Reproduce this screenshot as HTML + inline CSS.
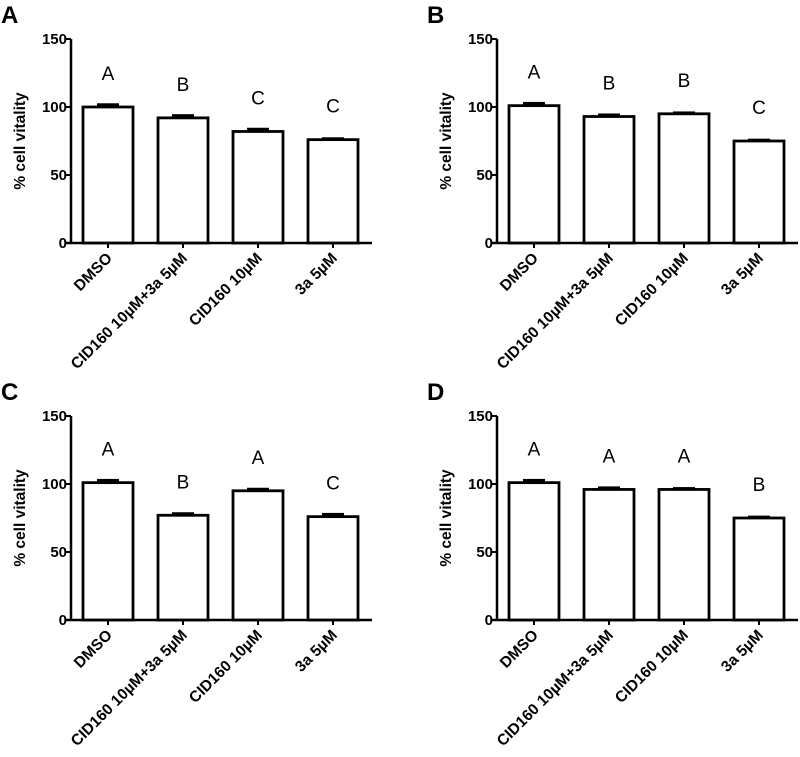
<!DOCTYPE html>
<html><head><meta charset="utf-8"><style>
body{margin:0;background:#fff}
svg text{font-family:"Liberation Sans",Arial,sans-serif}
</style></head><body>
<svg id="fig" width="800" height="752" viewBox="0 0 800 752" xmlns="http://www.w3.org/2000/svg"></svg>
<script>
const categories = ["DMSO","CID160 10µM+3a 5µM","CID160 10µM","3a 5µM"];
const yTicks = [0,50,100,150];
const panelNames = ["A","B","C","D"];
const valuesA = [100,92,82,76];
const valuesB = [101,93,95,75];
const valuesC = [101,77,95,76];
const valuesD = [101,96,96,75];
const errA = [2,2,2,1];
const errB = [2,1.5,1,1];
const errC = [2,1.5,1.5,2];
const errD = [2,1.5,1,1];
const lettersA = ["A","B","C","C"];
const lettersB = ["A","B","B","C"];
const lettersC = ["A","B","A","C"];
const lettersD = ["A","A","A","B"];

const NS="http://www.w3.org/2000/svg";
const svg=document.getElementById('fig');
function mk(tag,attrs,parent){const e=document.createElementNS(NS,tag);for(const k in attrs)e.setAttribute(k,attrs[k]);(parent||svg).appendChild(e);return e;}

function panel(name,ox,oy,vals,errs,letters){
  const g=mk('g',{});
  
  
  const ax=71+ox, y0=243+oy, yTop=39+oy;
  const yS=v=>y0-(v/150)*(y0-yTop);
  const xC=i=>ax+37+i*75;
  const t=mk('text',{x:ox+1,y:oy+23,'font-size':24,'font-weight':'bold'},g);t.textContent=name;
  
  
  const yl=mk('line',{x1:ax,y1:yTop,x2:ax,y2:y0+1,stroke:'#000','stroke-width':2.5},g);
  
  
  const xl=mk('line',{x1:ax-5,y1:y0,x2:ax+301,y2:y0,stroke:'#000','stroke-width':2.5},g);
  
  
  yTicks.forEach(v=>{
    mk('line',{x1:ax-5,y1:yS(v),x2:ax,y2:yS(v),stroke:'#000','stroke-width':2},g);
    const tt=mk('text',{x:ax-4,y:yS(v)+5,'font-size':15,'font-weight':'bold','text-anchor':'end'},g);tt.textContent=v;
    
    
  });
  const yt=mk('text',{x:0,y:0,'font-size':15.5,'font-weight':'bold','text-anchor':'middle',transform:`translate(${ax-46},${(yTop+y0)/2}) rotate(-90)`},g);
  yt.textContent='% cell vitality';
  
  
  vals.forEach((v,i)=>{
    const cx=xC(i), top=yS(v);
    const r=mk('rect',{x:cx-25,y:top,width:50,height:y0-top,fill:'#fff',stroke:'#000','stroke-width':2.8},g);
    
    
    const e=mk('rect',{x:cx-11,y:yS(v+errs[i])-1,width:22,height:Math.max(2.5,top-yS(v+errs[i])+1),fill:'#000'},g);
    
    
    mk('line',{x1:cx,y1:y0,x2:cx,y2:y0+5,stroke:'#000','stroke-width':2},g);
    const lt=mk('text',{x:cx,y:top-27,'font-size':19,'text-anchor':'middle'},g);lt.textContent=letters[i];
    
    
    const cl=mk('text',{x:0,y:0,'font-size':15.5,'font-weight':'bold','text-anchor':'end',transform:`translate(${cx+5},${y0+16}) rotate(-45)`},g);
    cl.textContent=categories[i];
    
    
  });
}
panel(panelNames[0],0,0,valuesA,errA,lettersA);
panel(panelNames[1],426,0,valuesB,errB,lettersB);
panel(panelNames[2],0,377,valuesC,errC,lettersC);
panel(panelNames[3],426,377,valuesD,errD,lettersD);
</script>
</body></html>
